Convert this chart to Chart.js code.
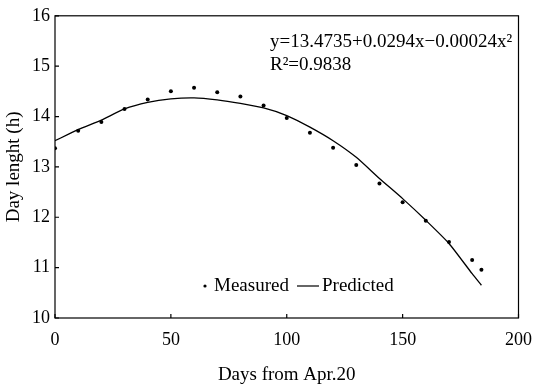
<!DOCTYPE html>
<html lang="en">
<head>
  <meta charset="UTF-8">
  <title>Day length</title>
  <script src="https://cdn.jsdelivr.net/npm/chart.js"></script>
  <style>
    body { margin: 0; background: #fff; }
    #wrap { width: 543px; height: 386px; }
  </style>
</head>
<body>
  <div id="wrap"><canvas id="dayChart" width="543" height="386"></canvas></div>

  <script>
    // days from Apr.20
    const days = [0, 10, 20, 30, 40, 50, 60, 70, 80, 90, 100, 110, 120, 130, 140, 150, 160, 170, 180, 184];
    // measured day length (h)
    const measured = [13.37, 13.72, 13.89, 14.15, 14.34, 14.50, 14.57, 14.48, 14.40, 14.22,
                      13.97, 13.68, 13.38, 13.04, 12.67, 12.30, 11.93, 11.51, 11.15, 10.96];
    // predicted curve
    const predicted = [13.52, 13.74, 13.93, 14.15, 14.28, 14.35, 14.37, 14.33, 14.26, 14.17,
                       14.02, 13.79, 13.52, 13.19, 12.77, 12.37, 11.94, 11.48, 10.88, 10.65];
    const xTicks = [0, 50, 100, 150, 200];
    const yTicks = [10, 11, 12, 13, 14, 15, 16];

    const serif = '"Liberation Serif", "DejaVu Serif", serif';

    // frame, inward ticks, equation text and legend
    const extras = {
      id: 'extras',
      afterDraw(chart) {
        const { ctx, chartArea: a, scales } = chart;
        ctx.save();
        ctx.strokeStyle = '#000';
        ctx.lineWidth = 1.2;
        ctx.strokeRect(a.left, a.top, a.right - a.left, a.bottom - a.top);

        ctx.beginPath();
        yTicks.forEach(v => {
          const y = scales.y.getPixelForValue(v);
          ctx.moveTo(a.left, y);
          ctx.lineTo(a.left + 4, y);
        });
        xTicks.forEach(v => {
          const x = scales.x.getPixelForValue(v);
          ctx.moveTo(x, a.bottom);
          ctx.lineTo(x, a.bottom - 4);
        });
        ctx.stroke();

        ctx.fillStyle = '#000';
        ctx.font = '19px ' + serif;
        ctx.textBaseline = 'middle';
        ctx.textAlign = 'left';
        ctx.fillText('y=13.4735+0.0294x\u22120.00024x\u00b2', 270, 42);
        ctx.fillText('R\u00b2=0.9838', 270, 65);

        // legend
        const ly = 286;
        ctx.beginPath();
        ctx.arc(205, ly, 1.6, 0, Math.PI * 2);
        ctx.fill();
        ctx.fillText('Measured', 214, ly);
        ctx.beginPath();
        ctx.moveTo(297, ly);
        ctx.lineTo(319, ly);
        ctx.stroke();
        ctx.fillText('Predicted', 322, ly);
        ctx.restore();
      }
    };

    new Chart(document.getElementById('dayChart'), {
      type: 'scatter',
      data: {
        datasets: [
          {
            label: 'Measured',
            data: days.map((d, i) => ({ x: d, y: measured[i] })),
            pointRadius: 2,
            pointBackgroundColor: '#000',
            pointBorderWidth: 0,
            showLine: false
          },
          {
            label: 'Predicted',
            data: days.map((d, i) => ({ x: d, y: predicted[i] })),
            showLine: true,
            borderColor: '#000',
            borderWidth: 1.3,
            pointRadius: 0,
            tension: 0.2
          }
        ]
      },
      options: {
        responsive: false,
        animation: false,
        layout: { padding: { top: 15, right: 13, left: 0, bottom: 0 } },
        plugins: { legend: { display: false }, tooltip: { enabled: false } },
        scales: {
          x: {
            type: 'linear',
            min: 0,
            max: 200,
            afterFit: s => { s.height = 68; },
            afterBuildTicks: s => { s.ticks = xTicks.map(v => ({ value: v })); },
            grid: { display: false, drawTicks: false },
            border: { display: false },
            ticks: { color: '#000', padding: 11, font: { family: serif, size: 18 } },
            title: {
              display: true,
              text: 'Days from Apr.20',
              color: '#000',
              font: { family: serif, size: 19 },
              padding: { top: 0, bottom: 0 }
            }
          },
          y: {
            min: 10,
            max: 16,
            afterFit: s => { s.width = 55; },
            afterBuildTicks: s => { s.ticks = yTicks.map(v => ({ value: v })); },
            grid: { display: false, drawTicks: false },
            border: { display: false },
            ticks: { color: '#000', padding: 5, font: { family: serif, size: 18 } },
            title: {
              display: true,
              text: 'Day lenght (h)',
              color: '#000',
              font: { family: serif, size: 19 },
              padding: { top: 3, bottom: 0 }
            }
          }
        }
      },
      plugins: [extras]
    });
  </script>
</body>
</html>
